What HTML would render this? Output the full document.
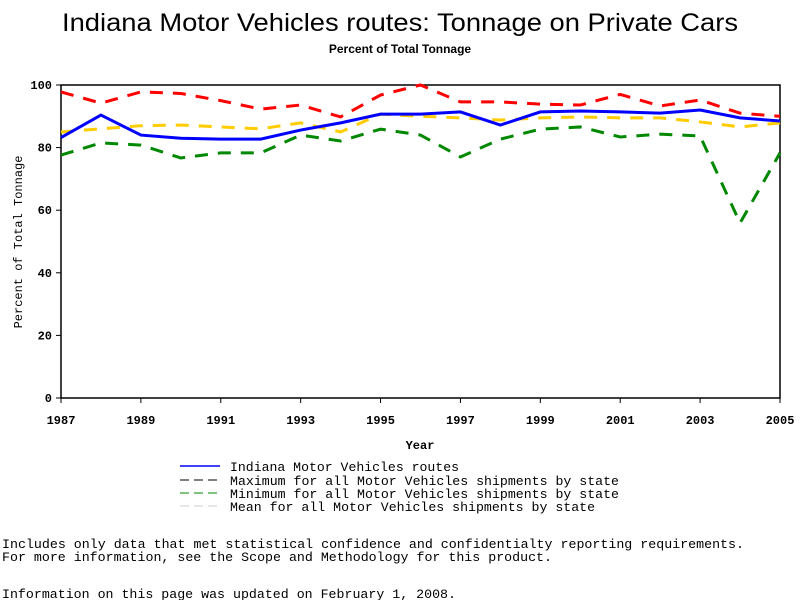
<!DOCTYPE html>
<html><head><meta charset="utf-8"><style>
body{margin:0;background:#fff;width:800px;height:600px;overflow:hidden}
svg{display:block}
</style></head><body>
<svg width="800" height="600" font-family="Liberation Mono, monospace">
<text x="400" y="31" text-anchor="middle" font-family="Liberation Sans, sans-serif" font-size="25" textLength="676" lengthAdjust="spacingAndGlyphs">Indiana Motor Vehicles routes: Tonnage on Private Cars</text>
<text x="400" y="53" text-anchor="middle" font-family="Liberation Sans, sans-serif" font-size="12" font-weight="bold">Percent of Total Tonnage</text>
<rect x="61" y="85" width="719" height="313" fill="none" stroke="#000" stroke-width="1.5"/>
<g id="axes"></g>
<g id="series"></g>
<text x="420" y="449" text-anchor="middle" font-size="12" font-weight="bold">Year</text>
<text transform="translate(22,242) rotate(-90)" text-anchor="middle" font-size="12">Percent of Total Tonnage</text>
<g font-size="13">
<g><line x1="180" y1="466" x2="220" y2="466" stroke="#00f" stroke-width="1.5"/><text x="230" y="471" textLength="229" lengthAdjust="spacingAndGlyphs">Indiana Motor Vehicles routes</text></g>
<g><line x1="180" y1="480" x2="220" y2="480" stroke="#000" stroke-dasharray="9,5"/><text x="230" y="485" textLength="389" lengthAdjust="spacingAndGlyphs">Maximum for all Motor Vehicles shipments by state</text></g>
<g><line x1="180" y1="493" x2="220" y2="493" stroke="#080" stroke-dasharray="9,5"/><text x="230" y="498" textLength="389" lengthAdjust="spacingAndGlyphs">Minimum for all Motor Vehicles shipments by state</text></g>
<g><line x1="180" y1="506" x2="220" y2="506" stroke="#ccc" stroke-dasharray="9,5"/><text x="230" y="511" textLength="365" lengthAdjust="spacingAndGlyphs">Mean for all Motor Vehicles shipments by state</text></g>
</g>
<g font-size="13">
<text x="2" y="548" textLength="742" lengthAdjust="spacingAndGlyphs">Includes only data that met statistical confidence and confidentialty reporting requirements.</text>
<text x="2" y="561" textLength="550" lengthAdjust="spacingAndGlyphs">For more information, see the Scope and Methodology for this product.</text>
<text x="2" y="598" textLength="454" lengthAdjust="spacingAndGlyphs">Information on this page was updated on February 1, 2008.</text>
</g>
</svg>
<script>
const years=[1987,1988,1989,1990,1991,1992,1993,1994,1995,1996,1997,1998,1999,2000,2001,2002,2003,2004,2005];
const indiana=[83.2,90.4,84,83,82.7,82.7,85.6,87.9,90.7,90.7,91.4,87.2,91.4,91.7,91.4,91,92,89.5,88.5];
const maxVals=[97.8,94.2,97.8,97.3,95,92.3,93.6,89.8,96.8,100,94.6,94.6,93.9,93.6,97,93.3,95.2,91,90];
const minVals=[77.6,81.5,80.8,76.7,78.3,78.3,84,82.1,85.9,84,77,82.7,85.9,86.6,83.4,84.3,83.7,55.9,78.3];
const meanVals=[85,86,87,87.2,86.6,86,87.9,85,90.7,90,89.5,88.8,89.5,89.8,89.5,89.5,88.2,86.6,87.9];
const yTicks=[0,20,40,60,80,100];
const xTicks=[1987,1989,1991,1993,1995,1997,1999,2001,2003,2005];
const NS='http://www.w3.org/2000/svg';
const X=y=>61+(y-1987)*(719/18);
const Y=v=>398-v*3.13;
const ax=document.getElementById('axes'),sg=document.getElementById('series');
function mk(t,a,p){const e=document.createElementNS(NS,t);for(const k in a)e.setAttribute(k,a[k]);p.appendChild(e);return e;}
yTicks.forEach(v=>{
 const l=mk('line',{x1:56,x2:61,y1:Y(v),y2:Y(v),stroke:'#000'},ax);
 
 
 const t=mk('text',{x:52,y:Y(v)+4,'text-anchor':'end','font-size':12,'font-weight':'bold'},ax);t.textContent=v;
 
 
});
xTicks.forEach(v=>{
 const l=mk('line',{x1:X(v),x2:X(v),y1:398,y2:403,stroke:'#000'},ax);
 
 
 const t=mk('text',{x:X(v),y:424,'text-anchor':'middle','font-size':12,'font-weight':'bold'},ax);t.textContent=v;
 
 
});
function line(vals,color,dash,name){
 const p=mk('polyline',{points:vals.map((v,i)=>X(years[i])+','+Y(v)).join(' '),fill:'none',stroke:color,'stroke-width':3},sg);
 if(dash)p.setAttribute('stroke-dasharray',dash);
 
 
}
line(maxVals,'#f00','13,10','series-maximum');
line(minVals,'#080','13,10','series-minimum');
line(meanVals,'#fc0','13,10','series-mean');
line(indiana,'#00f',null,'series-indiana');
</script>
</body></html>
